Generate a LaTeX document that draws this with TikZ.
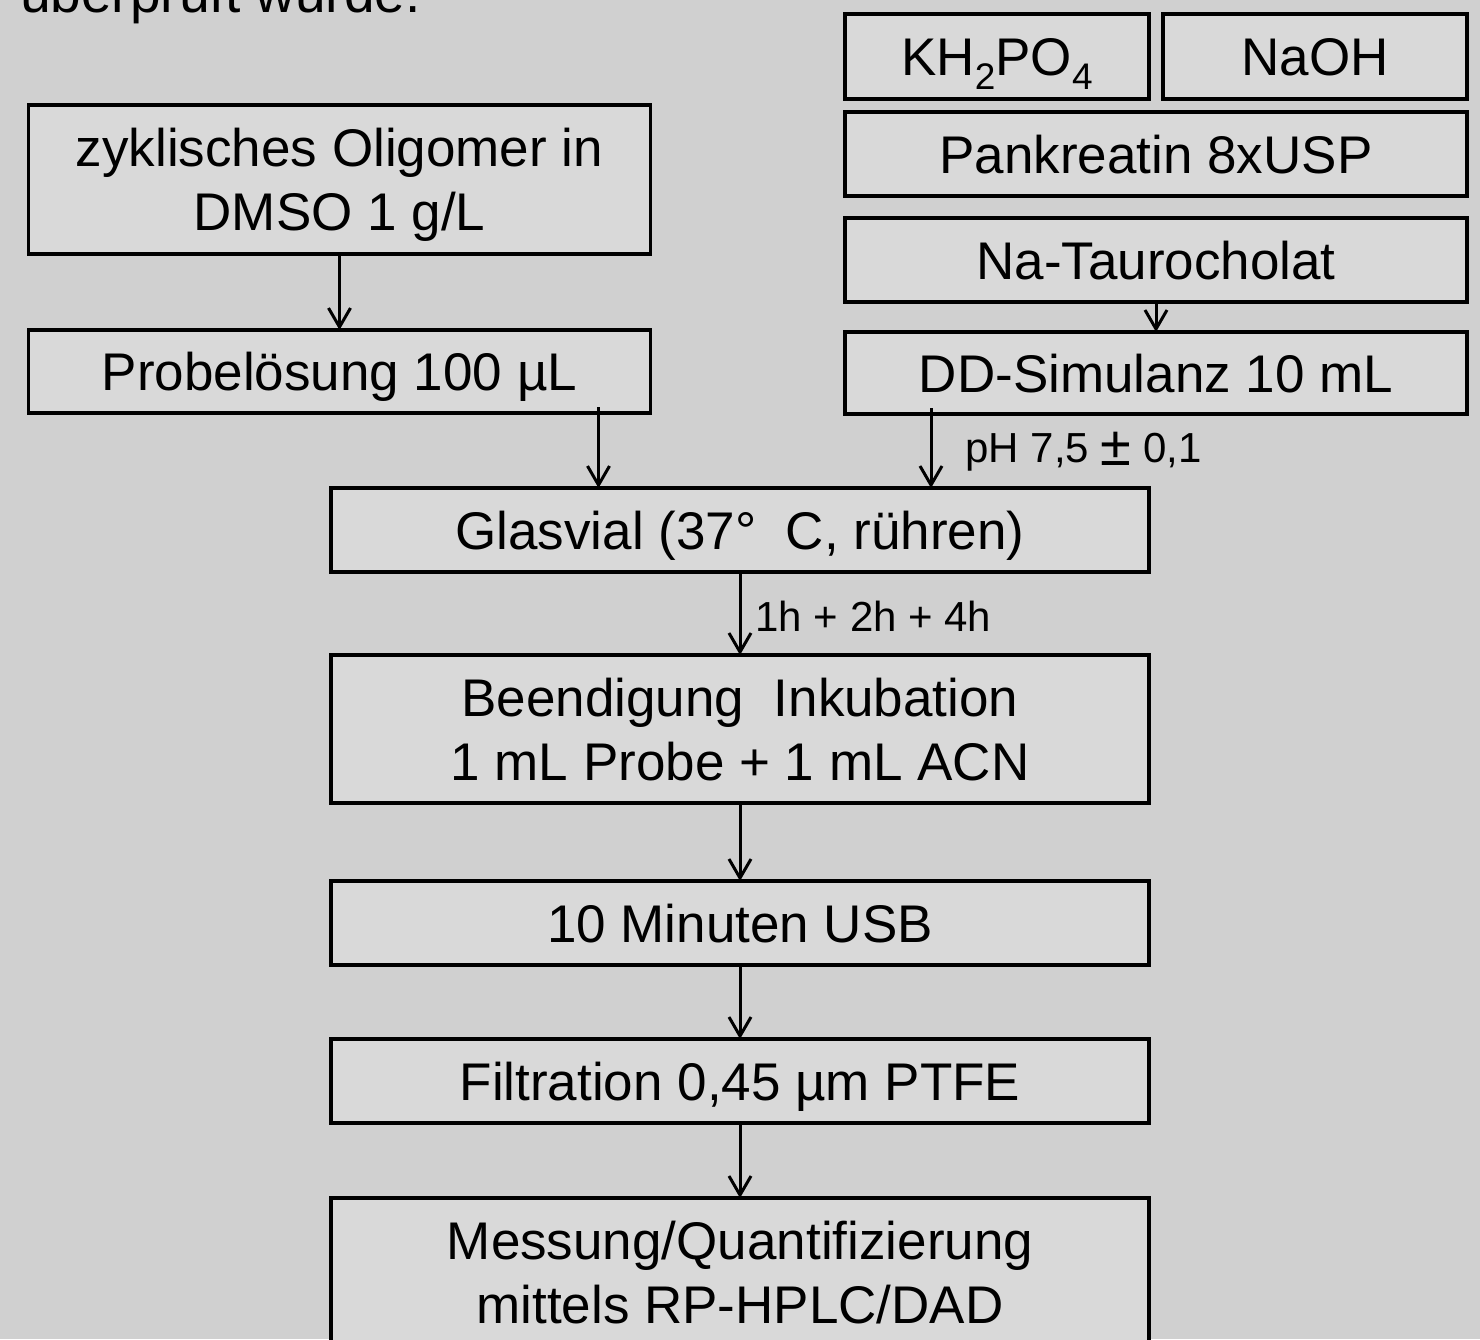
\documentclass[tikz,border=0pt]{standalone}
\usepackage{fontspec}
\setmainfont{Liberation Sans}
\usetikzlibrary{arrows.meta,positioning}
\definecolor{bggray}{RGB}{208,208,208}
\definecolor{boxgray}{RGB}{217,217,217}
\newcommand\tief[1]{\raisebox{-14pt}{\fontsize{37}{40}\selectfont #1}}

\begin{document}
\begin{tikzpicture}[
    x=1pt, y=-1pt,
    block/.style={draw, fill=boxgray, line width=3.5pt, minimum width=622pt, minimum height=84pt,
        inner sep=0pt, outer sep=0pt, align=center, text height=38pt, text depth=0pt,
        font=\fontsize{53}{64}\selectfont},
    twoline/.style={minimum height=148pt, text height=102pt},
    wide/.style={block, minimum width=818pt},
    arrow/.style={-{Straight Barb[length=19pt,width=22pt]}, line width=3pt},
    note/.style={font=\fontsize{42}{50}\selectfont, inner sep=0pt, anchor=west},
]
    \useasboundingbox (0,0) rectangle (1480,1339);
    \fill[bggray] (0,0) rectangle (1480,1339);
    \node[font=\fontsize{55}{66}\selectfont, inner sep=0pt, anchor=base west] (intro) at (20,12) {überprüft wurde.};

    % Probe
    \node[block, twoline, minimum height=149pt] (olig) at (339.5,179.5) {zyklisches Oligomer in\\DMSO 1 g/L};
    \node[block, minimum height=83pt, below=76pt of olig] (probe) {Probelösung 100 µL};

    % Simulanz
    \node[block, minimum width=304pt, minimum height=85pt] (kh) at (997,56.5) {KH\tief{2}PO\tief{4}};
    \node[block, minimum width=304pt, minimum height=85pt, right=14pt of kh] (naoh) {NaOH};
    \node[block, below=13pt of kh.south west, anchor=north west] (pank) {Pankreatin 8xUSP};
    \node[block, below=22pt of pank] (tauro) {Na-Taurocholat};
    \node[block, minimum height=82pt, below=30pt of tauro] (dd) {DD-Simulanz 10 mL};

    % Ablauf
    \node[wide] (glas) at (740,530) {Glasvial (37°~~C, rühren)};
    \node[wide, twoline, below=83pt of glas] (beend) {Beendigung~~Inkubation\\1 mL Probe + 1 mL ACN};
    \node[wide, below=78pt of beend] (usb) {10 Minuten USB};
    \node[wide, below=74pt of usb] (filt) {Filtration 0,45 µm PTFE};
    \node[wide, twoline, below=75pt of filt] (mess) {Messung/Quantifizierung\\mittels RP-HPLC/DAD};

    \draw[arrow] (olig) -- (probe);
    \draw[arrow] (tauro) -- (dd);
    \draw[arrow] ([xshift=-52pt,yshift=6pt]probe.south east) -- ([xshift=-52pt]probe.south east |- glas.north);
    \draw[arrow] ([xshift=86pt,yshift=6pt]dd.south west) -- ([xshift=86pt]dd.south west |- glas.north)
        node[note, midway, right=33pt, yshift=-4pt] {pH 7,5 \raisebox{-3pt}{\fontsize{56}{50}\selectfont ±} 0,1};
    \draw[arrow] (glas) -- node[note, right=14pt, yshift=-3pt] {1h + 2h + 4h} (beend);
    \draw[arrow] (beend) -- (usb);
    \draw[arrow] (usb) -- (filt);
    \draw[arrow] (filt) -- (mess);
\end{tikzpicture}
\end{document}
